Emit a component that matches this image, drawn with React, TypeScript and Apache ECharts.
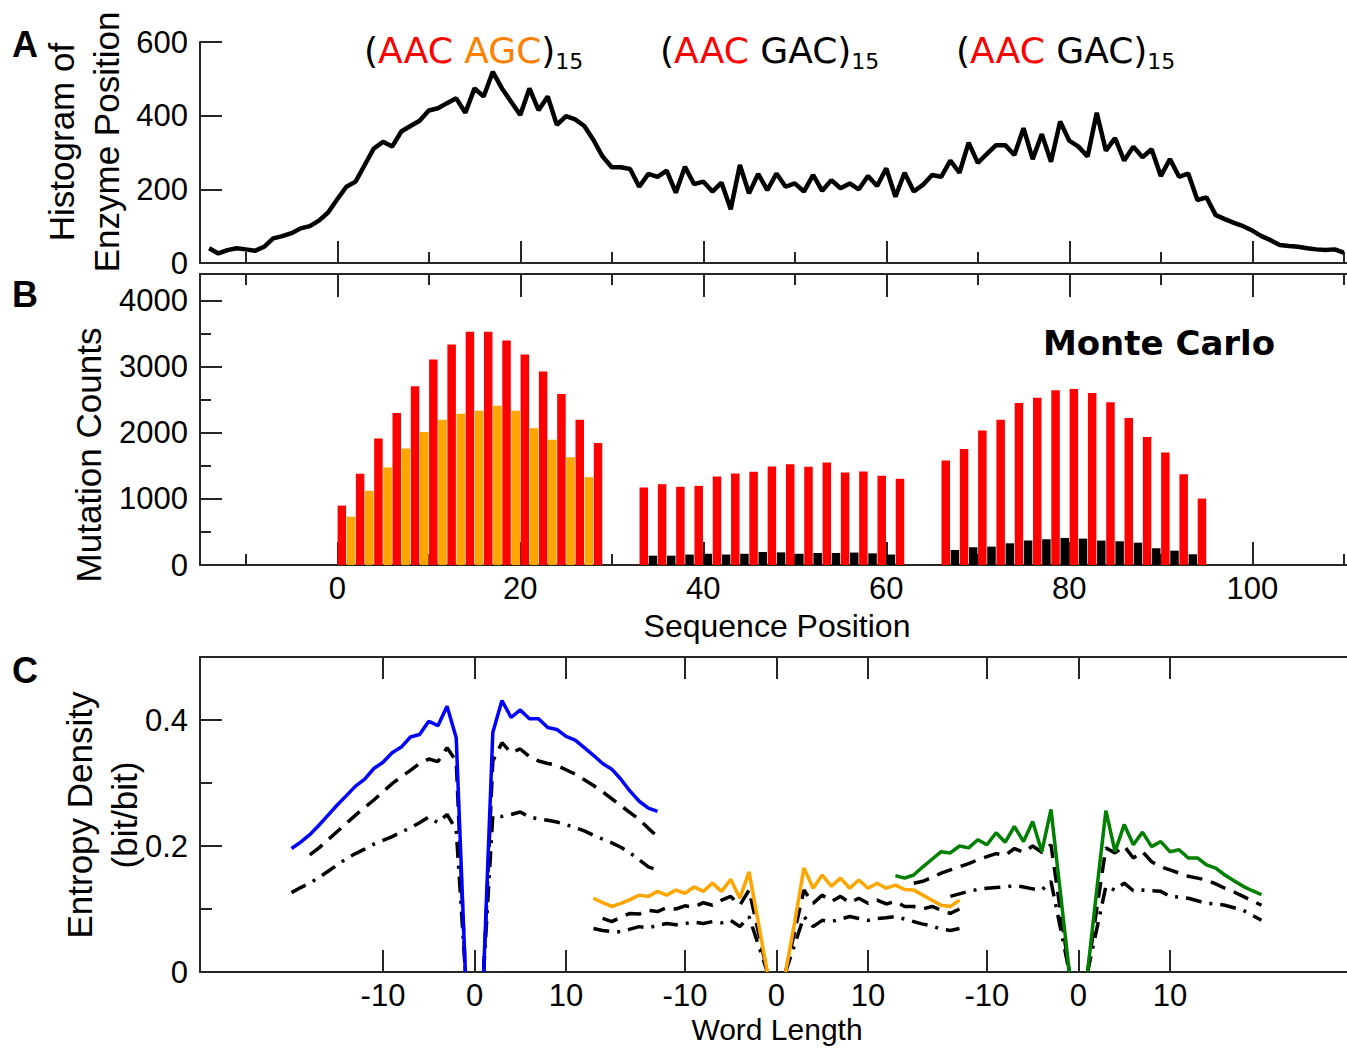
import React, { useEffect, useRef } from "react";
import * as echarts from "echarts";

// ---------- Panel A: histogram of enzyme position ----------
const histStart = -14;
const histCounts = [
  40, 26, 35, 40, 37, 33, 44, 67, 73, 81, 94, 100, 115, 137,
  173, 207, 221, 266, 311, 329, 316, 357, 372, 386, 414, 420, 434, 447, 408, 474,
  452, 519, 474, 438, 402, 474, 415, 452, 375, 399, 390, 372, 334, 289, 260,
  260, 255, 207, 242, 234, 251, 191, 261, 214, 221, 194, 218, 146, 266, 189,
  242, 198, 243, 207, 216, 194, 239, 196, 225, 203, 216, 200, 236, 209, 257,
  180, 245, 194, 212, 239, 234, 278, 245, 327, 272, 296, 320, 320, 293, 366,
  282, 350, 275, 384, 332, 316, 289, 408, 305, 339, 278, 316, 287, 309, 236,
  282, 234, 243, 171, 178, 130, 119, 109, 100, 88, 73, 62, 49, 46, 44,
  40, 37, 35, 37, 28,
];

// ---------- Panel B: mutation counts ----------
const redPositions = [
  0.5, 2.5, 4.5, 6.5, 8.5, 10.5, 12.5, 14.5, 16.5, 18.5, 20.5, 22.5, 24.5, 26.5, 28.5,
  33.5, 35.5, 37.5, 39.5, 41.5, 43.5, 45.5, 47.5, 49.5, 51.5, 53.5, 55.5, 57.5, 59.5, 61.5,
  66.5, 68.5, 70.5, 72.5, 74.5, 76.5, 78.5, 80.5, 82.5, 84.5, 86.5, 88.5, 90.5, 92.5, 94.5,
];
const redCounts = [
  898, 1379, 1914, 2298, 2702, 3106, 3333, 3525, 3525, 3394, 3182, 2924, 2586, 2197, 1843,
  1172, 1222, 1182, 1197, 1338, 1384, 1409, 1490, 1525, 1485, 1551, 1399, 1414, 1348, 1303,
  1581, 1753, 2035, 2197, 2449, 2530, 2641, 2662, 2601, 2460, 2222, 1934, 1702, 1374, 1005,
];
const orangePositions = [1.5, 3.5, 5.5, 7.5, 9.5, 11.5, 13.5, 15.5, 17.5, 19.5, 21.5, 23.5, 25.5, 27.5];
const orangeCounts = [732, 1121, 1475, 1763, 2010, 2197, 2288, 2333, 2409, 2333, 2066, 1894, 1631, 1328];
const blackPositions = [
  34.5, 36.5, 38.5, 40.5, 42.5, 44.5, 46.5, 48.5, 50.5, 52.5, 54.5, 56.5, 58.5, 60.5,
  67.5, 69.5, 71.5, 73.5, 75.5, 77.5, 79.5, 81.5, 83.5, 85.5, 87.5, 89.5, 91.5, 93.5,
];
const blackCounts = [
  141, 141, 158, 170, 158, 170, 197, 191, 170, 182, 182, 188, 176, 158,
  227, 268, 278, 328, 369, 389, 409, 399, 369, 359, 338, 253, 217, 162,
];

// ---------- Panel C: entropy density vs word length ----------
const repeatCenters = [15, 48, 81];
const wordLengths = [
  -20, -19, -18, -17, -16, -15, -14, -13, -12, -11, -10, -9, -8, -7, -6, -5, -4, -3, -2, -1, 0,
  1, 2, 3, 4, 5, 6, 7, 8, 9, 10, 11, 12, 13, 14, 15, 16, 17, 18, 19, 20,
];
const blueSolid = [
  0.196, 0.206, 0.218, 0.233, 0.249, 0.265, 0.28, 0.295, 0.306, 0.323, 0.333, 0.348, 0.357, 0.373, 0.377, 0.398, 0.391, 0.422, 0.372, 0, null,
  0, 0.38, 0.431, 0.404, 0.416, 0.402, 0.402, 0.388, 0.385, 0.374, 0.368, 0.356, 0.344, 0.331, 0.322, 0.306, 0.287, 0.271, 0.26, 0.255,
];
const blueDashed = [
  null, null, 0.186, 0.197, 0.21, 0.223, 0.236, 0.249, 0.261, 0.273, 0.286, 0.299, 0.31, 0.32, 0.331, 0.338, 0.334, 0.356, 0.335, 0, null,
  0, 0.335, 0.364, 0.348, 0.354, 0.342, 0.335, 0.331, 0.328, 0.321, 0.314, 0.305, 0.296, 0.286, 0.275, 0.264, 0.253, 0.242, 0.228, 0.215,
];
const blueDashDot = [
  0.126, 0.134, 0.141, 0.15, 0.16, 0.17, 0.18, 0.188, 0.195, 0.203, 0.209, 0.215, 0.222, 0.229, 0.237, 0.246, 0.237, 0.25, 0.226, 0, null,
  0, 0.248, 0.247, 0.25, 0.254, 0.246, 0.243, 0.241, 0.238, 0.234, 0.229, 0.224, 0.217, 0.211, 0.205, 0.198, 0.189, 0.178, 0.167, 0.162,
];
const orangeSolid = [
  0.117, 0.11, 0.104, 0.109, 0.115, 0.122, 0.12, 0.128, 0.122, 0.13, 0.125, 0.135, 0.128, 0.141, 0.128, 0.147, 0.117, 0.159, 0.08, 0, null,
  0, 0.08, 0.165, 0.133, 0.154, 0.136, 0.149, 0.133, 0.146, 0.133, 0.141, 0.133, 0.138, 0.131, 0.13, 0.122, 0.114, 0.106, 0.104, 0.114,
];
const orangeDashed = [
  null, 0.085, 0.08, 0.087, 0.093, 0.092, 0.098, 0.096, 0.102, 0.1, 0.105, 0.103, 0.11, 0.106, 0.114, 0.12, 0.106, 0.13, 0.065, 0, null,
  0, 0.065, 0.13, 0.109, 0.122, 0.112, 0.12, 0.11, 0.117, 0.109, 0.114, 0.108, 0.112, 0.104, 0.104, 0.1, 0.104, 0.098, 0.093, 0.1,
];
const orangeDashDot = [
  0.069, 0.066, 0.064, 0.064, 0.068, 0.072, 0.07, 0.074, 0.077, 0.075, 0.077, 0.079, 0.077, 0.08, 0.078, 0.082, 0.072, 0.088, 0.044, 0, null,
  0, 0.044, 0.088, 0.072, 0.082, 0.08, 0.084, 0.088, 0.085, 0.082, 0.085, 0.086, 0.088, 0.084, 0.08, 0.076, 0.073, 0.068, 0.066, 0.069,
];
const greenSolid = [
  0.153, 0.149, 0.154, 0.167, 0.179, 0.191, 0.189, 0.2, 0.197, 0.21, 0.202, 0.221, 0.206, 0.231, 0.207, 0.239, 0.191, 0.258, 0.13, 0, null,
  0, 0.13, 0.256, 0.191, 0.234, 0.202, 0.222, 0.199, 0.207, 0.191, 0.194, 0.181, 0.181, 0.17, 0.165, 0.154, 0.145, 0.136, 0.129, 0.123,
];
const greenDashed = [
  null, null, 0.141, 0.144, 0.15, 0.157, 0.162, 0.167, 0.172, 0.178, 0.183, 0.188, 0.185, 0.196, 0.19, 0.2, 0.19, 0.202, 0.1, 0, null,
  0, 0.1, 0.197, 0.189, 0.2, 0.181, 0.191, 0.175, 0.167, 0.162, 0.157, 0.152, 0.149, 0.146, 0.14, 0.133, 0.127, 0.12, 0.113, 0.106,
];
const greenDashDot = [
  null, null, null, null, null, null, 0.12, 0.124, 0.128, 0.131, 0.133, 0.134, 0.135, 0.137, 0.135, 0.132, 0.13, 0.144, 0.072, 0, null,
  0, 0.068, 0.136, 0.13, 0.141, 0.129, 0.13, 0.129, 0.128, 0.12, 0.119, 0.117, 0.113, 0.109, 0.108, 0.106, 0.102, 0.098, 0.09, 0.082,
];

// ---------- Axis ticks / labels ----------
const seqMin = -15;
const seqMax = 110.35;
const seqMajorTicks = [0, 20, 40, 60, 80, 100];
const seqMinorTicks = [-10, 0, 10, 20, 30, 40, 50, 60, 70, 80, 90, 100, 110];
const wordOffsets = [-10, 0, 10];
const histYTicks = [0, 200, 400, 600];
const countYTicks = [0, 1000, 2000, 3000, 4000];
const countYMinor = [500, 1500, 2500, 3500];
const entropyYTicks = [0, 0.2, 0.4];
const entropyYMinor = [0.1, 0.3];

const FONT = "'Liberation Sans', Arial, sans-serif";
const VFONT = "'DejaVu Sans', Verdana, sans-serif";
const AXIS_COLOR = "#262626";
const RED = "#ff0000";
const ORANGE_BAR = "#ffa500";
const ORANGE_TXT = "#ff7f00";
const BLUE = "#0000ff";
const GREEN = "#008000";
const DASH = [16, 9];
const DASHDOT = [16, 8, 3, 8];

const axLine = (show: boolean) => ({
  show,
  onZero: false,
  lineStyle: { color: AXIS_COLOR, width: 2 },
});

function mkX(gridIndex: number, position: string, ticks: number[], len: number, showLine: boolean, labels?: any) {
  return {
    type: "value",
    gridIndex,
    position,
    min: seqMin,
    max: seqMax,
    axisLine: axLine(showLine),
    axisTick: { show: true, inside: true, length: len, customValues: ticks, lineStyle: { color: AXIS_COLOR, width: 2 } },
    axisLabel: labels
      ? { show: true, customValues: labels.values, formatter: labels.formatter, margin: 8, fontFamily: FONT, fontSize: 31, color: "#000" }
      : { show: false },
    splitLine: { show: false },
  };
}

function mkY(gridIndex: number, min: number, max: number, ticks: number[], len: number, showLine: boolean, labels?: any) {
  return {
    type: "value",
    gridIndex,
    position: "left",
    min,
    max,
    axisLine: axLine(showLine),
    axisTick: { show: true, inside: true, length: len, customValues: ticks, lineStyle: { color: AXIS_COLOR, width: 2 } },
    axisLabel: labels
      ? { show: true, customValues: labels.values, formatter: labels.formatter, margin: 12, fontFamily: FONT, fontSize: 31, color: "#000" }
      : { show: false },
    splitLine: { show: false },
  };
}

const nearestCenter = (v: number) =>
  repeatCenters.reduce((best, c) => (Math.abs(c - v) < Math.abs(best - v) ? c : best), repeatCenters[0]);

const pairs = (xs: number[], ys: number[]) => xs.map((x, i) => [x, ys[i]]);
const wordSeries = (center: number, vals: (number | null)[]) =>
  wordLengths.map((L, i) => [center + L, vals[i] === null ? "-" : vals[i]]);

function lineSeries(center: number, vals: (number | null)[], color: string, type: any, width: number, z: number) {
  return {
    type: "line",
    xAxisIndex: 6,
    yAxisIndex: 3,
    data: wordSeries(center, vals),
    showSymbol: false,
    symbol: "none",
    connectNulls: false,
    z,
    lineStyle: { color, width, type },
  };
}

function annotation(x: number, second: string, secondColor: string) {
  return {
    type: "text",
    x,
    y: 50,
    style: {
      text: `{p|(}{r|AAC}{p| }{o|${second}}{p|)}{s|15}`,
      align: "left",
      verticalAlign: "middle",
      rich: {
        p: { fontFamily: VFONT, fontSize: 36, fill: "#000", lineHeight: 44 },
        r: { fontFamily: VFONT, fontSize: 36, fill: RED, lineHeight: 44 },
        o: { fontFamily: VFONT, fontSize: 36, fill: secondColor, lineHeight: 44 },
        s: { fontFamily: VFONT, fontSize: 22, fill: "#000", verticalAlign: "bottom" },
      },
    },
  };
}

export default function App() {
  const ref = useRef<HTMLDivElement>(null);

  useEffect(() => {
    if (!ref.current) return;
    const chart = echarts.init(ref.current, null, { renderer: "svg" });
    const wordTicks = repeatCenters.flatMap((c) => wordOffsets.map((o) => c + o));
    const histPositions = histCounts.map((_, i) => histStart + i);

    const option: any = {
      animation: false,
      backgroundColor: "#fff",
      grid: [
        { left: 200, top: 42, width: 1147, height: 221 },
        { left: 200, top: 274, width: 1147, height: 291 },
        { left: 200, top: 657, width: 1147, height: 315 },
      ],
      xAxis: [
        mkX(0, "bottom", seqMajorTicks, 22, true),
        mkX(0, "bottom", seqMinorTicks, 11, false),
        mkX(1, "bottom", seqMajorTicks, 23, true, { values: seqMajorTicks, formatter: (v: number) => String(v) }),
        mkX(1, "bottom", seqMinorTicks, 11, false),
        mkX(1, "top", seqMajorTicks, 23, true),
        mkX(1, "top", seqMinorTicks, 11, false),
        mkX(2, "bottom", wordTicks, 22, true, {
          values: wordTicks,
          formatter: (v: number) => String(Math.round(v - nearestCenter(v))),
        }),
        mkX(2, "top", wordTicks, 22, true),
      ],
      yAxis: [
        mkY(0, 0, 600, histYTicks, 22, true, { values: histYTicks, formatter: (v: number) => String(v) }),
        mkY(1, 0, 4400, countYTicks, 22, true, { values: countYTicks, formatter: (v: number) => String(v) }),
        mkY(1, 0, 4400, countYMinor, 11, false),
        mkY(2, 0, 0.5, entropyYTicks, 22, true, {
          values: entropyYTicks,
          formatter: (v: number) => (v === 0 ? "0" : v.toFixed(1)),
        }),
        mkY(2, 0, 0.5, entropyYMinor, 12, false),
      ],
      series: [
        {
          type: "line",
          xAxisIndex: 0,
          yAxisIndex: 0,
          data: pairs(histPositions, histCounts),
          showSymbol: false,
          symbol: "none",
          lineStyle: { color: "#000", width: 4.5 },
          z: 3,
        },
        {
          type: "bar",
          xAxisIndex: 2,
          yAxisIndex: 1,
          data: pairs(redPositions, redCounts),
          barWidth: 8.5,
          barGap: "-100%",
          itemStyle: { color: RED },
        },
        {
          type: "bar",
          xAxisIndex: 2,
          yAxisIndex: 1,
          data: pairs(orangePositions, orangeCounts),
          barWidth: 8.5,
          barGap: "-100%",
          itemStyle: { color: ORANGE_BAR },
        },
        {
          type: "bar",
          xAxisIndex: 2,
          yAxisIndex: 1,
          data: pairs(blackPositions, blackCounts),
          barWidth: 8.5,
          barGap: "-100%",
          itemStyle: { color: "#000" },
        },
        lineSeries(repeatCenters[0], blueDashDot, "#000", DASHDOT, 3.5, 3),
        lineSeries(repeatCenters[0], blueDashed, "#000", DASH, 3.5, 3),
        lineSeries(repeatCenters[0], blueSolid, BLUE, "solid", 3.5, 4),
        lineSeries(repeatCenters[1], orangeDashDot, "#000", DASHDOT, 3.5, 3),
        lineSeries(repeatCenters[1], orangeDashed, "#000", DASH, 3.5, 3),
        lineSeries(repeatCenters[1], orangeSolid, ORANGE_BAR, "solid", 3.5, 4),
        lineSeries(repeatCenters[2], greenDashDot, "#000", DASHDOT, 3.5, 3),
        lineSeries(repeatCenters[2], greenDashed, "#000", DASH, 3.5, 3),
        lineSeries(repeatCenters[2], greenSolid, GREEN, "solid", 3.5, 4),
      ],
      graphic: [
        { type: "text", x: 25, y: 44, style: { text: "A", font: `bold 36px ${FONT}`, fill: "#000", align: "center", verticalAlign: "middle" } },
        { type: "text", x: 25, y: 294, style: { text: "B", font: `bold 36px ${FONT}`, fill: "#000", align: "center", verticalAlign: "middle" } },
        { type: "text", x: 25, y: 670, style: { text: "C", font: `bold 36px ${FONT}`, fill: "#000", align: "center", verticalAlign: "middle" } },
        {
          type: "text", x: 84, y: 142, rotation: Math.PI / 2,
          style: { text: "Histogram of\nEnzyme Position", font: `35px ${FONT}`, fill: "#000", align: "center", verticalAlign: "middle", lineHeight: 45 },
        },
        {
          type: "text", x: 88, y: 455, rotation: Math.PI / 2,
          style: { text: "Mutation Counts", font: `35px ${FONT}`, fill: "#000", align: "center", verticalAlign: "middle" },
        },
        {
          type: "text", x: 102, y: 815, rotation: Math.PI / 2,
          style: { text: "Entropy Density\n(bit/bit)", font: `35px ${FONT}`, fill: "#000", align: "center", verticalAlign: "middle", lineHeight: 45 },
        },
        { type: "text", x: 777, y: 626, style: { text: "Sequence Position", font: `32px ${FONT}`, fill: "#000", align: "center", verticalAlign: "middle" } },
        { type: "text", x: 777, y: 1029, style: { text: "Word Length", font: `30px ${FONT}`, fill: "#000", align: "center", verticalAlign: "middle" } },
        { type: "text", x: 1159, y: 343, style: { text: "Monte Carlo", font: `bold 34px ${VFONT}`, fill: "#000", align: "center", verticalAlign: "middle" } },
        annotation(364, "AGC", ORANGE_TXT),
        annotation(660, "GAC", "#000"),
        annotation(956, "GAC", "#000"),
      ],
    };

    chart.setOption(option);
    return () => chart.dispose();
  }, []);

  return (
    <div
      ref={ref}
      style={{ position: "absolute", left: 0, top: 0, width: 1347, height: 1048, background: "#fff" }}
    />
  );
}
